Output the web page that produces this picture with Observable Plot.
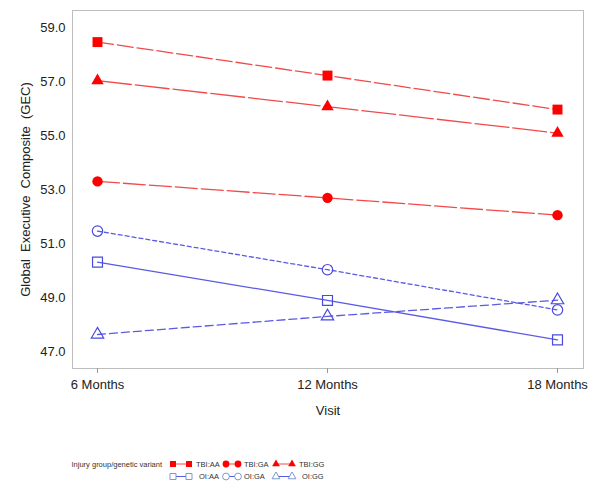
<!DOCTYPE html>
<html>
<head>
<meta charset="utf-8">
<script src="https://cdn.jsdelivr.net/npm/d3@7"></script>
<script src="https://cdn.jsdelivr.net/npm/@observablehq/plot@0.6"></script>
<style>
  html, body { margin: 0; padding: 0; background: #fff; }
  #wrap { position: relative; width: 600px; height: 489px; font-family: "Liberation Sans", Arial, sans-serif; }
  #legend { position: absolute; left: 0; top: 452px; }
</style>
</head>
<body>
<div id="wrap">
  <div id="chart"></div>
  <div id="legend"></div>
</div>
<script>
// ---- Data ----
const visits = ["6 Months", "12 Months", "18 Months"];
const groups = ["TBI:AA", "TBI:GA", "TBI:GG", "OI:AA", "OI:GA", "OI:GG"];
const tbiAA = [58.46, 57.22, 55.96];
const tbiGA = [53.30, 52.69, 52.05];
const tbiGG = [57.03, 56.07, 55.09];
const oiAA  = [50.31, 48.89, 47.43];
const oiGA  = [51.46, 50.03, 48.54];
const oiGG  = [47.63, 48.30, 48.90];
const yTicks = [47, 49, 51, 53, 55, 57, 59];
const legendTitle = "Injury group/genetic variant";

const seriesValues = [tbiAA, tbiGA, tbiGG, oiAA, oiGA, oiGG];

// styles per group
const RED = "#ff0000", REDLINE = "#f24a4a", BLUE = "#4a4ade", BLUELINE = "#5a5ae6";
const styles = {
  "TBI:AA": {line: REDLINE, mark: RED, fill: RED, symbol: "square", dash: "16,4"},
  "TBI:GA": {line: REDLINE, mark: RED, fill: RED, symbol: "circle", dash: "22,4"},
  "TBI:GG": {line: REDLINE, mark: RED, fill: RED, symbol: "triangle", dash: "34,4"},
  "OI:AA":  {line: BLUELINE, mark: BLUE, fill: "none", symbol: "square", dash: null},
  "OI:GA":  {line: BLUELINE, mark: BLUE, fill: "none", symbol: "circle", dash: "4,3"},
  "OI:GG":  {line: BLUELINE, mark: BLUE, fill: "none", symbol: "triangle", dash: "8,4"}
};
const symR = {square: 5.6, circle: 5.2, triangle: 4.6};

const rows = [];
groups.forEach((g, i) => {
  visits.forEach((v, j) => rows.push({group: g, visit: v, value: seriesValues[i][j]}));
});

const marks = [
  Plot.frame({stroke: "#bdbdbd"}),
  Plot.axisX({tickSize: 5, tickPadding: 6, stroke: "#999", label: "Visit", labelAnchor: "center", labelOffset: 46, labelArrow: "none", fontSize: 13}),
  Plot.axisY({ticks: yTicks, tickSize: 0, tickPadding: 7, tickFormat: d3.format(".1f"), label: "Global  Executive  Composite  (GEC)", labelAnchor: "center", labelOffset: 52, labelArrow: "none", fontSize: 13})
];
groups.forEach(g => {
  const s = styles[g];
  const data = rows.filter(d => d.group === g);
  marks.push(Plot.line(data, {x: "visit", y: "value", stroke: s.line, strokeWidth: 1.3, strokeDasharray: s.dash || undefined}));
});
groups.forEach(g => {
  const s = styles[g];
  const data = rows.filter(d => d.group === g);
  marks.push(Plot.dot(data, {x: "visit", y: "value", symbol: () => s.symbol, r: symR[s.symbol],
    fill: s.fill, stroke: s.mark, strokeWidth: s.fill === "none" ? 1.2 : 0}));
});

const chart = Plot.plot({
  width: 600,
  height: 430,
  marginLeft: 72,
  marginRight: 17,
  marginTop: 10,
  marginBottom: 62,
  style: {fontFamily: "'Liberation Sans', Arial, sans-serif", fontSize: "13px", background: "white", color: "#222"},
  x: {type: "point", domain: visits, range: [97, 557], padding: 0},
  y: {domain: [46.37, 59.63]},
  symbol: {type: "identity"},
  marks
});
document.getElementById("chart").appendChild(chart);

// ---- Legend ----
const lg = d3.select("#legend").append("svg").attr("width", 600).attr("height", 37)
  .style("font-family", "'Liberation Sans', Arial, sans-serif").style("font-size", "7.5px");
const legTop = 452;
lg.append("text").attr("x", 162).attr("y", 464 - legTop).attr("text-anchor", "end").attr("dy", "0.35em").attr("fill", "#333").text(legendTitle);
const pos = {
  "TBI:AA": [173, 189, 196, 464], "TBI:GA": [226, 238, 244, 464], "TBI:GG": [276, 292, 299, 464],
  "OI:AA": [173, 189, 199, 476.5], "OI:GA": [226, 238, 244, 476.5], "OI:GG": [276, 292, 302, 476.5]
};
groups.forEach(g => {
  const s = styles[g];
  const [x1, x2, tx, yy] = pos[g];
  const y = yy - legTop;
  lg.append("line").attr("x1", x1).attr("x2", x2).attr("y1", y).attr("y2", y).attr("stroke", s.line).attr("stroke-width", 1);
  const sym = s.symbol === "square" ? d3.symbolSquare : s.symbol === "circle" ? d3.symbolCircle : d3.symbolTriangle;
  const rr = s.symbol === "triangle" ? 2.9 : 3.4;
  const path = d3.symbol(sym, Math.PI * rr * rr)();
  [x1, x2].forEach(x => {
    lg.append("path").attr("d", path).attr("transform", `translate(${x},${y})`)
      .attr("fill", s.fill === "none" ? "white" : s.fill).attr("stroke", s.fill === "none" ? "#6f8fc8" : "none").attr("stroke-width", 0.9);
  });
  lg.append("text").attr("x", tx).attr("y", y).attr("dy", "0.35em").attr("fill", "#333").text(g);
});
</script>
</body>
</html>
